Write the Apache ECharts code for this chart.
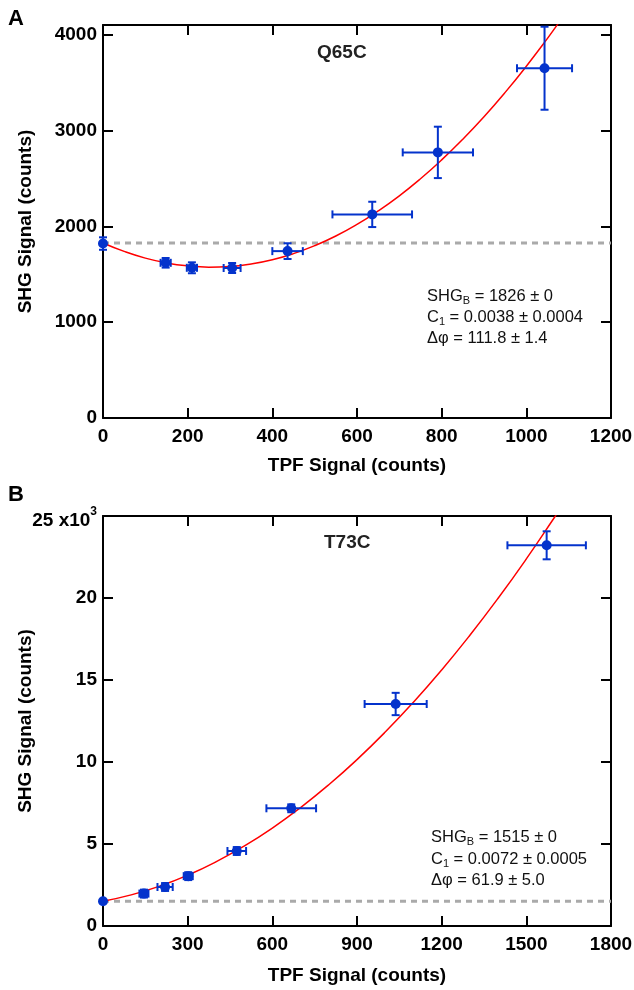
<!DOCTYPE html>
<html><head><meta charset="utf-8">
<script src="https://cdn.jsdelivr.net/npm/echarts@6/dist/echarts.min.js"></script>
<style>html,body{margin:0;padding:0;background:#fff}#c{width:634px;height:990px}</style>
</head><body><div id="c"></div>
<script>
const FONT = '"Liberation Sans", Arial, Helvetica, sans-serif';
const BLUE = '#0433cc';

// ---------- Panel A : Q65C ----------
const tpfA    = [0, 148, 210, 305, 436, 636, 791, 1043];
const shgA    = [1820, 1619, 1567, 1565, 1741, 2124, 2771, 3649];
const tpfErrA = [0, 12, 12, 20, 36, 94, 83, 65];
const shgErrA = [65, 50, 57, 52, 82, 132, 268, 433];
const fitXA = [0, 50, 100, 150, 200, 250, 300, 350, 400, 450, 500, 550, 600, 650, 700, 750, 800, 850, 900, 950, 1000, 1050, 1075];
const fitYA = [1826, 1738, 1668, 1618, 1587, 1574, 1581, 1607, 1651, 1715, 1798, 1899, 2020, 2160, 2318, 2496, 2693, 2909, 3143, 3397, 3670, 3961, 4114];
const baselineA = 1826;
const xTicksA = [0, 200, 400, 600, 800, 1000, 1200];
const yTicksA = [0, 1000, 2000, 3000, 4000];

// ---------- Panel B : T73C ----------
const tpfB    = [0, 145, 220, 302, 474, 667, 1037, 1572];
const shgB    = [1506, 1976, 2378, 3040, 4573, 7177, 13537, 23213];
const tpfErrB = [0, 16, 27, 16, 33, 88, 110, 139];
const shgErrB = [0, 240, 240, 240, 240, 240, 680, 854];
const fitXB = [0, 100, 200, 300, 400, 500, 600, 700, 800, 900, 1000, 1100, 1200, 1300, 1400, 1500, 1600, 1610];
const fitYB = [1515, 1898, 2425, 3096, 3912, 4871, 5974, 7221, 8612, 10147, 11826, 13649, 15616, 17728, 19983, 22382, 24925, 25187];
const baselineB = 1515;
const xTicksB = [0, 300, 600, 900, 1200, 1500, 1800];
const yTicksB = [0, 5000, 10000, 15000, 20000, 25000];

const chart = echarts.init(document.getElementById('c'), null, {renderer: 'canvas'});

const lineBlack = {color: '#000', width: 2};
const labelStyle = {fontSize: 19, fontWeight: 'bold', color: '#000', fontFamily: FONT};
const nameStyle = {fontSize: 19, fontWeight: 'bold', color: '#000', fontFamily: FONT};

function xAxes(grid, ticks, name, gap) {
  const mn = ticks[0], mx = ticks[ticks.length - 1], iv = ticks[1] - ticks[0];
  return [
    {gridIndex: grid, type: 'value', min: mn, max: mx, interval: iv, position: 'bottom',
     axisLine: {show: true, onZero: false, lineStyle: lineBlack},
     axisTick: {show: true, inside: true, length: 10, lineStyle: lineBlack},
     axisLabel: Object.assign({margin: 9, formatter: v => String(v)}, labelStyle),
     splitLine: {show: false},
     name: name, nameLocation: 'middle', nameGap: gap, nameMoveOverlap: false, nameTextStyle: nameStyle},
    {gridIndex: grid, type: 'value', min: mn, max: mx, interval: iv, position: 'top',
     axisLine: {show: true, onZero: false, lineStyle: lineBlack},
     axisTick: {show: true, inside: true, length: 10, lineStyle: lineBlack},
     axisLabel: {show: false}, splitLine: {show: false}}
  ];
}
function yAxes(grid, ticks, max, name, fmt) {
  return [
    {gridIndex: grid, type: 'value', min: 0, max: max, position: 'left',
     axisLine: {show: true, onZero: false, lineStyle: lineBlack},
     axisTick: {show: true, inside: true, length: 10, lineStyle: lineBlack, customValues: ticks},
     axisLabel: Object.assign({margin: 6, customValues: ticks, formatter: fmt,
       rich: {
         m: {fontSize: 19, fontWeight: 'bold', color: '#000', fontFamily: FONT, padding: [10, 0, 0, 0]},
         s: {fontSize: 12, fontWeight: 'bold', color: '#000', fontFamily: FONT, padding: [4, 0, 0, 0], verticalAlign: 'top'}
       }}, labelStyle),
     splitLine: {show: false},
     name: name, nameLocation: 'middle', nameGap: 68, nameMoveOverlap: false, nameTextStyle: nameStyle},
    {gridIndex: grid, type: 'value', min: 0, max: max, position: 'right',
     axisLine: {show: true, onZero: false, lineStyle: lineBlack},
     axisTick: {show: true, inside: true, length: 10, lineStyle: lineBlack, customValues: ticks},
     axisLabel: {show: false}, splitLine: {show: false}}
  ];
}

function errorBars(xs, ys, xe, ye, xi, yi) {
  return {
    type: 'custom', xAxisIndex: xi, yAxisIndex: yi, z: 3, silent: true,
    data: xs.map((x, i) => [x, ys[i], xe[i], ye[i]]),
    renderItem: function (params, api) {
      const x = api.value(0), y = api.value(1), dx = api.value(2), dy = api.value(3);
      const cap = 4;
      const st = {stroke: BLUE, lineWidth: 2};
      const ch = [];
      if (dx > 0) {
        const l = api.coord([x - dx, y]), r = api.coord([x + dx, y]);
        ch.push({type: 'line', shape: {x1: l[0], y1: l[1], x2: r[0], y2: r[1]}, style: st});
        ch.push({type: 'line', shape: {x1: l[0], y1: l[1] - cap, x2: l[0], y2: l[1] + cap}, style: st});
        ch.push({type: 'line', shape: {x1: r[0], y1: r[1] - cap, x2: r[0], y2: r[1] + cap}, style: st});
      }
      if (dy > 0) {
        const t = api.coord([x, y + dy]), b = api.coord([x, y - dy]);
        ch.push({type: 'line', shape: {x1: t[0], y1: t[1], x2: b[0], y2: b[1]}, style: st});
        ch.push({type: 'line', shape: {x1: t[0] - cap, y1: t[1], x2: t[0] + cap, y2: t[1]}, style: st});
        ch.push({type: 'line', shape: {x1: b[0] - cap, y1: b[1], x2: b[0] + cap, y2: b[1]}, style: st});
      }
      return {type: 'group', children: ch};
    }
  };
}

function panelSeries(tpf, shg, tpfErr, shgErr, fitX, fitY, base, xmax, xi, yi) {
  return [
    {type: 'line', xAxisIndex: xi, yAxisIndex: yi, z: 1, symbol: 'none', silent: true,
     data: [[0, base], [xmax, base]],
     lineStyle: {color: '#aaaaaa', width: 3, type: [6, 5]}},
    {type: 'line', xAxisIndex: xi, yAxisIndex: yi, z: 2, symbol: 'none', smooth: true, silent: true, clip: true,
     data: fitX.map((x, i) => [x, fitY[i]]),
     lineStyle: {color: '#ff0000', width: 1.5}},
    errorBars(tpf, shg, tpfErr, shgErr, xi, yi),
    {type: 'scatter', xAxisIndex: xi, yAxisIndex: yi, z: 4, symbol: 'circle', symbolSize: 10, silent: true,
     data: tpf.map((x, i) => [x, shg[i]]),
     itemStyle: {color: BLUE, opacity: 1}}
  ];
}

function annot(left, top, step, lines) {
  const rich = {
    a: {fontSize: 16.5, fontFamily: FONT, color: '#111', lineHeight: 20},
    b: {fontSize: 11, fontFamily: FONT, color: '#111', lineHeight: 11, verticalAlign: 'bottom'}
  };
  return lines.map((t, i) => ({
    type: 'text', left: left, top: top + i * step, z: 10,
    style: {text: t, rich: rich, fill: '#111'}
  }));
}

const option = {
  animation: false,
  backgroundColor: '#fff',
  grid: [
    {left: 103, top: 25, width: 508, height: 393, containLabel: false, outerBoundsMode: 'none'},
    {left: 103, top: 516, width: 508, height: 410, containLabel: false, outerBoundsMode: 'none'}
  ],
  xAxis: [].concat(
    xAxes(0, xTicksA, 'TPF Signal (counts)', 38),
    xAxes(1, xTicksB, 'TPF Signal (counts)', 40)
  ),
  yAxis: [].concat(
    yAxes(0, yTicksA, 4100, 'SHG Signal (counts)', v => String(v)),
    yAxes(1, yTicksB, 25000, 'SHG Signal (counts)', v => v === 25000 ? '{m|25 x10}{s|3}' : String(v / 1000))
  ),
  series: [].concat(
    panelSeries(tpfA, shgA, tpfErrA, shgErrA, fitXA, fitYA, baselineA, 1200, 0, 0),
    panelSeries(tpfB, shgB, tpfErrB, shgErrB, fitXB, fitYB, baselineB, 1800, 2, 2)
  ),
  graphic: [
    {type: 'text', left: 8, top: 8, style: {text: 'A', font: 'bold 22px ' + FONT, fill: '#000'}},
    {type: 'text', left: 8, top: 484, style: {text: 'B', font: 'bold 22px ' + FONT, fill: '#000'}},
    {type: 'text', left: 317, top: 43, style: {text: 'Q65C', font: 'bold 19px ' + FONT, fill: '#222'}},
    {type: 'text', left: 324, top: 533, style: {text: 'T73C', font: 'bold 19px ' + FONT, fill: '#222'}}
  ].concat(
    annot(427, 288, 21, ['{a|SHG}{b|B}{a| = 1826 ± 0}', '{a|C}{b|1}{a| = 0.0038 ± 0.0004}', '{a|Δφ = 111.8 ± 1.4}']),
    annot(431, 829, 21.5, ['{a|SHG}{b|B}{a| = 1515 ± 0}', '{a|C}{b|1}{a| = 0.0072 ± 0.0005}', '{a|Δφ = 61.9 ± 5.0}'])
  )
};
chart.setOption(option);
</script>
</body></html>
